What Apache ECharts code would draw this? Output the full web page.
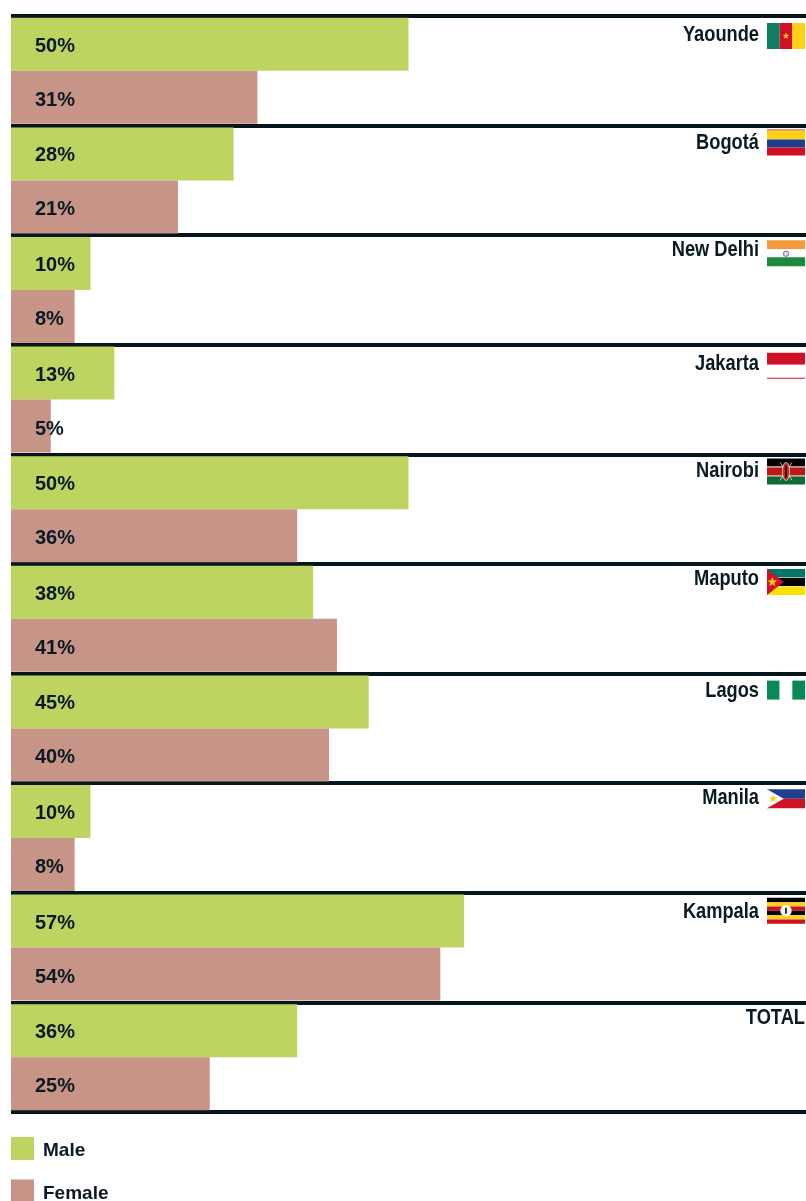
<!DOCTYPE html>
<html><head><meta charset="utf-8">
<style>html,body{margin:0;padding:0;background:#fff;overflow:hidden}#c{width:806px;height:1201px}</style>
<script src="https://cdn.jsdelivr.net/npm/echarts@6/dist/echarts.min.js"></script>
</head><body><div id="c"></div>
<script>
const cities = ['Yaounde','Bogotá','New Delhi','Jakarta','Nairobi','Maputo','Lagos','Manila','Kampala','TOTAL'];
const male = [50,28,10,13,50,38,45,10,57,36];
const female = [31,21,8,5,36,41,40,8,54,25];
const maleName = 'Male', femaleName = 'Female';

const INK='#0a1a22', GREEN='#bdd461', PINK='#c79488', FONT='"Liberation Sans",sans-serif';
const R='#ce1126',Y='#fdd116',G='#0b7f5f',B='#1e3f8f',K='#000000',W='#ffffff';
// flag artwork: stripes (colour, weight), direction, extras in 0..1 flag units
const flags = {
  'Yaounde':{dir:'v',stripes:[[G,1],[R,1],[Y,1]],star:[.5,.5,.13,Y]},
  'Bogotá':{dir:'h',stripes:[[R,1],[Y,9],[B,8],[R,8]]},
  'New Delhi':{dir:'h',stripes:[['#f59a3a',9],[W,8],['#1b8a3c',9]],ring:[.5,.52,.07,'#6b6fa5']},
  'Jakarta':{dir:'h',stripes:[[R,12],[W,13],[R,1]]},
  'Nairobi':{dir:'h',stripes:[[K,8],['#e8a9a0',1],['#bb1a14',8],['#e8a9a0',1],['#0e6b35',8]],shield:true},
  'Maputo':{dir:'h',stripes:[['#05756a',8],[W,.6],[K,8],[W,.6],['#fde000',8]],tri:[.44,R],star:[.14,.5,.2,'#f2c40f']},
  'Lagos':{dir:'v',stripes:[['#078a55',1],[W,1],['#078a55',1]]},
  'Manila':{dir:'h',stripes:[[B,1],[R,1]],tri:[.44,W],star:[.16,.5,.22,Y]},
  'Kampala':{dir:'h',stripes:[[K,1],[Y,1],[R,1],[K,1],[Y,1],[R,1]],disc:[.5,.5,.15]}
};
// layout of each city header relative to its band top
const headTop = {'Yaounde':7,'Bogotá':4,'New Delhi':5,'Jakarta':8,'Nairobi':4,'Maputo':5,'Lagos':7,'Manila':6,'Kampala':5};
const textTop = {'Yaounde':19,'Bogotá':17,'New Delhi':15,'Jakarta':19,'Nairobi':17,'Maputo':15,'Lagos':17,'Manila':15,'Kampala':19,'TOTAL':16};
const flagH = {'Lagos':19,'Manila':19};

function starPts(cx,cy,r,w,h){const p=[];for(let i=0;i<10;i++){const a=-Math.PI/2+i*Math.PI/5,q=i%2?r*.42:r;p.push([cx*w+Math.cos(a)*q*h,cy*h+Math.sin(a)*q*h]);}return p;}

function flagShapes(f,x,y,w,h){
  const out=[]; const tot=f.stripes.reduce((s,t)=>s+t[1],0); let pos=0;
  f.stripes.forEach(([c,n])=>{
    const a=pos/tot,b=(pos+n)/tot; pos+=n;
    const shape=f.dir==='h'?{x:x,y:y+a*h,width:w,height:(b-a)*h}:{x:x+a*w,y:y,width:(b-a)*w,height:h};
    out.push({type:'rect',shape,style:{fill:c}});
  });
  if(f.tri) out.push({type:'polygon',shape:{points:[[x,y],[x+f.tri[0]*w,y+h/2],[x,y+h]]},style:{fill:f.tri[1]}});
  if(f.star){const [cx,cy,r,c]=f.star;out.push({type:'polygon',shape:{points:starPts(cx,cy,r,w,h).map(p=>[p[0]+x,p[1]+y])},style:{fill:c}});}
  if(f.ring){const [cx,cy,r,c]=f.ring;out.push({type:'circle',shape:{cx:x+cx*w,cy:y+cy*h,r:r*w},style:{fill:'#dfe0ee',stroke:c,lineWidth:1}});}
  if(f.shield){
    const cx=x+w/2,cy=y+h/2;
    out.push({type:'line',shape:{x1:cx-6,y1:cy-9,x2:cx+6,y2:cy+9},style:{stroke:'#eee',lineWidth:.8}});
    out.push({type:'line',shape:{x1:cx+6,y1:cy-9,x2:cx-6,y2:cy+9},style:{stroke:'#eee',lineWidth:.8}});
    out.push({type:'ellipse',shape:{cx,cy,rx:3.5,ry:9},style:{fill:'#c9231b',stroke:'#eee',lineWidth:.8}});
    out.push({type:'rect',shape:{x:cx-.7,y:cy-6,width:1.4,height:12},style:{fill:K}});
  }
  if(f.disc){const [cx,cy,r]=f.disc;out.push({type:'circle',shape:{cx:x+cx*w,cy:y+cy*h,r:r*w},style:{fill:'#fff'}});
    out.push({type:'rect',shape:{x:x+cx*w-1,y:y+cy*h-3,width:2,height:6},style:{fill:'#333'}});}
  return out;
}

const chart=echarts.init(document.getElementById('c'),null,{renderer:'canvas'});
const barLabel=(dy)=>({show:true,position:'insideLeft',distance:24,offset:[0,dy],formatter:'{c}%',color:INK,fontFamily:FONT,fontWeight:'bold',fontSize:20});
chart.setOption({
  animation:false,
  grid:{left:11,right:0,top:16,bottom:89,containLabel:false},
  xAxis:{type:'value',min:0,max:100,show:false},
  yAxis:{type:'category',inverse:true,data:cities,
    axisLine:{show:false},axisTick:{show:false},axisLabel:{show:false},
    splitLine:{show:true,interval:0,lineStyle:{color:'#06161c',width:4}}},
  legend:{orient:'vertical',left:11,top:1137,height:80,padding:0,itemWidth:23,itemHeight:23,itemGap:19,icon:'rect',
    data:[maleName,femaleName],
    formatter:'{t|{name}}',
    textStyle:{rich:{t:{color:INK,fontFamily:FONT,fontWeight:'bold',fontSize:19,padding:[5,0,0,4]}}}},
  series:[
    {name:maleName,type:'bar',data:male,barWidth:53,barGap:0,itemStyle:{color:GREEN},label:barLabel(2)},
    {name:femaleName,type:'bar',data:female,barWidth:53,barGap:0,itemStyle:{color:PINK},label:barLabel(3)},
    {name:'heads',type:'custom',silent:true,z:5,
     data:cities.map((c,i)=>[100,i]),encode:{x:0,y:1},
     renderItem(params,api){
       const i=api.value(1),city=cities[i];
       const p=api.coord([100,i]),band=api.size([0,1])[1],top=p[1]-band/2;
       const f=flags[city];
       const children=[{type:'text',x:f?759:805,y:top+textTop[city],scaleX:.83,
         style:{text:city,x:0,y:0,align:'right',verticalAlign:'middle',fill:INK,font:'bold 22px '+FONT}}];
       if(f) children.push(...flagShapes(f,767,top+headTop[city],38,flagH[city]||26));
       return {type:'group',children};
     }}
  ]
});
</script></body></html>
